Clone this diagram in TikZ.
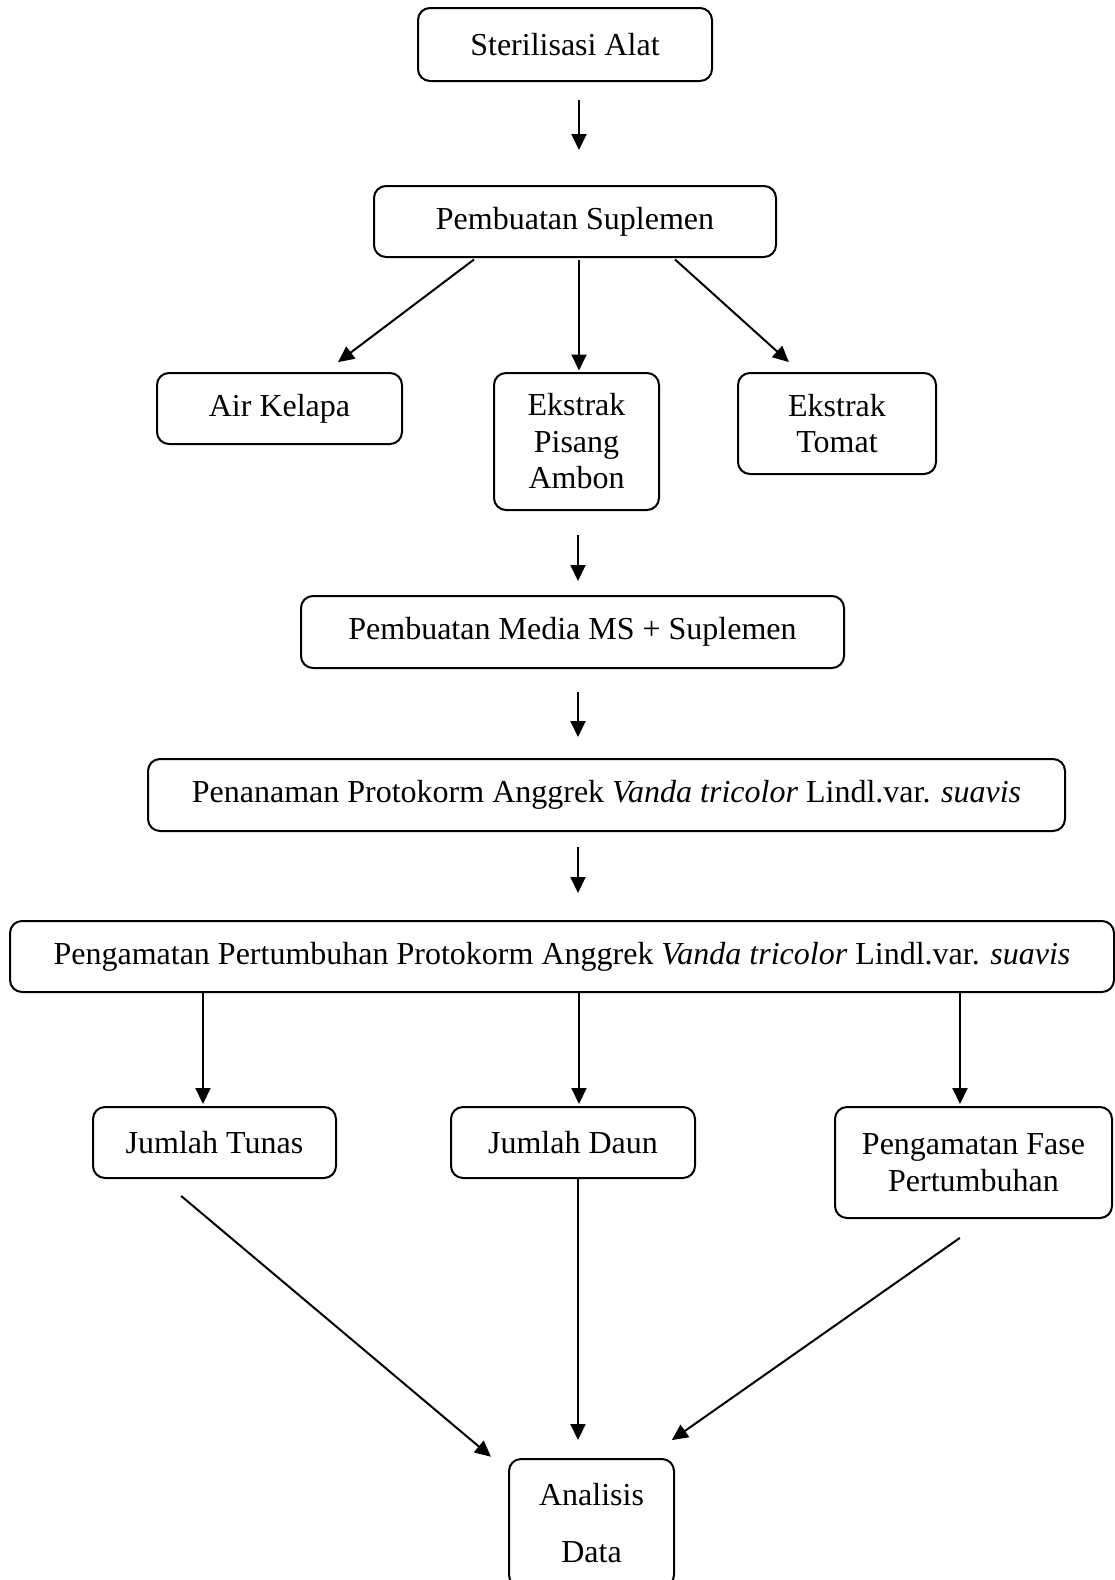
\documentclass[tikz,border=0pt]{standalone}
\usepackage{fontspec}
\setmainfont{Liberation Serif}
\usetikzlibrary{arrows.meta}
\begin{document}
\begin{tikzpicture}[x=1pt,y=-1pt,
  box/.style={draw, line width=2pt, rounded corners=12pt, inner sep=0pt, align=center,
    font=\fontsize{32}{36.5}\selectfont},
  arr/.style={line width=2pt, -{Triangle[length=16pt,width=15pt]}}]
\useasboundingbox (0,0) rectangle (1115,1580);
\node[box, minimum width=294pt, minimum height=73pt] (ster) at (565,44.5) {Sterilisasi Alat};
\node[box, minimum width=402pt, minimum height=71pt] (supl) at (575,221.5) {Pembuatan Suplemen};
\node[box, minimum width=245pt, minimum height=71pt] (air) at (279.5,408.5) {Air Kelapa};
\node[box, minimum width=165pt, minimum height=137pt] (pis) at (576.5,441.5) {Ekstrak\\Pisang\\Ambon};
\node[box, minimum width=198pt, minimum height=101pt] (tom) at (837,423.5) {Ekstrak\\Tomat};
\node[box, minimum width=543pt, minimum height=72pt] (media) at (572.5,632) {Pembuatan Media MS + Suplemen};
\node[box, minimum width=917pt, minimum height=72pt] (pen) at (606.5,795) {Penanaman Protokorm Anggrek \textit{Vanda tricolor} Lindl.var. \textit{suavis}};
\node[box, minimum width=1104pt, minimum height=71pt] (peng) at (562,956.5) {Pengamatan Pertumbuhan Protokorm Anggrek \textit{Vanda tricolor} Lindl.var. \textit{suavis}};
\node[box, minimum width=243pt, minimum height=71pt] (tun) at (214.5,1142.5) {Jumlah Tunas};
\node[box, minimum width=244pt, minimum height=71pt] (daun) at (573,1142.5) {Jumlah Daun};
\node[box, minimum width=277pt, minimum height=111pt] (fase) at (973.5,1162.5) {Pengamatan Fase\\Pertumbuhan};
\node[box, minimum width=165pt, minimum height=128pt] (ana) at (591.5,1523) {Analisis\\[20pt]Data};

\draw[arr, shorten <=18pt, shorten >=35pt] ([xshift=14pt]ster.south) -- ([xshift=4pt]supl.north);
\draw[arr, shorten <=2.5pt, shorten >=16.4pt] ([xshift=-99pt]supl.south) -- ([xshift=45.5pt]air.north);
\draw[arr, shorten <=2pt, shorten >=1.5pt] ([xshift=4pt]supl.south) -- ([xshift=2.5pt]pis.north);
\draw[arr, shorten <=2.2pt, shorten >=14.8pt] ([xshift=98.4pt]supl.south) -- ([xshift=-37.1pt]tom.north);
\draw[arr, shorten <=24pt, shorten >=14pt] ([xshift=1.5pt]pis.south) -- ([xshift=5.5pt]media.north);
\draw[arr, shorten <=23pt, shorten >=21pt] ([xshift=5.5pt]media.south) -- ([xshift=-28.5pt]pen.north);
\draw[arr, shorten <=15pt, shorten >=27pt] ([xshift=-28.5pt]pen.south) -- ([xshift=16pt]peng.north);
\draw[arr, shorten >=2pt] ([xshift=-359pt]peng.south) -- ([xshift=-11.5pt]tun.north);
\draw[arr, shorten >=2pt] ([xshift=17pt]peng.south) -- ([xshift=6pt]daun.north);
\draw[arr, shorten >=2pt] ([xshift=398pt]peng.south) -- ([xshift=-13.5pt]fase.north);
\draw[arr, shorten <=26.3pt, shorten >=2pt] ([xshift=-53.5pt]tun.south) -- ([xshift=-99pt]ana.north);
\draw[arr, shorten >=18pt] ([xshift=5pt]daun.south) -- ([xshift=-13.5pt]ana.north);
\draw[arr, shorten <=32.9pt, shorten >=31.2pt] ([xshift=13.3pt]fase.south) -- ([xshift=54.8pt]ana.north);
\end{tikzpicture}
\end{document}
